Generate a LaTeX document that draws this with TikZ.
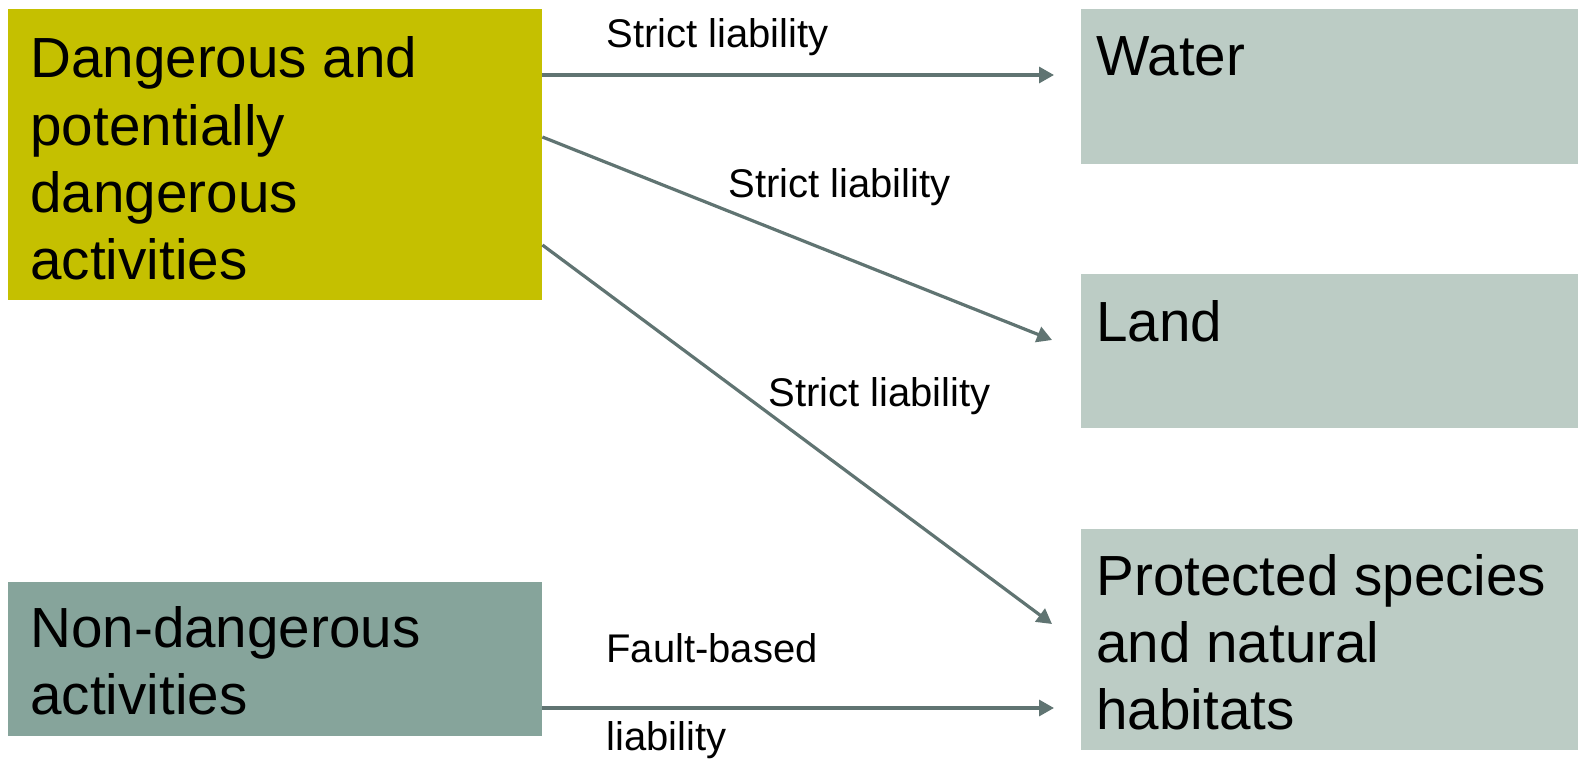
\documentclass[tikz,border=0pt]{standalone}
\usepackage{fontspec}
\setmainfont{Liberation Sans}
\usetikzlibrary{arrows.meta}
\definecolor{dangY}{RGB}{197,192,0}
\definecolor{nondG}{RGB}{134,164,155}
\definecolor{recvG}{RGB}{188,204,197}
\definecolor{arrC}{RGB}{96,116,114}
\tikzset{
  boxbase/.style={rectangle, inner sep=0pt, draw=none},
  boxtext/.style={inner sep=0pt, anchor=base west, align=left, font=\fontsize{28.3}{33.5}\selectfont},
  lbltext/.style={inner sep=0pt, anchor=base west, align=left, font=\fontsize{20}{44}\selectfont},
  conn/.style={draw=arrC, line width=1.6pt, -{Triangle[length=7.5pt,width=8pt]}}
}
\begin{document}
\begin{tikzpicture}[x=0.5pt,y=-0.5pt]
\useasboundingbox (0,0) rectangle (1578,759);
% boxes
\node[boxbase, fill=dangY, minimum width=267pt, minimum height=145.5pt] (dang) at (275,154.5) {};
\node[boxbase, fill=nondG, minimum width=267pt, minimum height=77pt] (nond) at (275,659) {};
\node[boxbase, fill=recvG, minimum width=248.5pt, minimum height=77.5pt] (water) at (1329.5,86.5) {};
\node[boxbase, fill=recvG, minimum width=248.5pt, minimum height=77pt] (land) at (1329.5,351) {};
\node[boxbase, fill=recvG, minimum width=248.5pt, minimum height=110.5pt] (prot) at (1329.5,639.5) {};
% box texts (base anchor = last line)
\node[boxtext] (dangT) at (30,279) {Dangerous and\\potentially\\dangerous\\activities};
\node[boxtext] (nondT) at (30,714) {Non-dangerous\\activities};
\node[boxtext] (waterT) at (1096,76) {Water};
\node[boxtext] (landT) at (1096,341) {Land};
\node[boxtext] (protT) at (1096,729) {Protected species\\and natural\\habitats};
% connector end points
\coordinate (s1) at (dang.east |- 0,75);
\coordinate (s2) at (dang.east |- 0,137);
\coordinate (s3) at (dang.east |- 0,245);
\coordinate (s4) at (nond.east |- 0,708);
\coordinate (e1) at (1054,75);
\coordinate (e2) at (1052,340);
\coordinate (e3) at (1052,624);
\coordinate (e4) at (1054,708);
\draw[conn] (s1) -- (e1);
\draw[conn] (s2) -- (e2);
\draw[conn] (s3) -- (e3);
\draw[conn] (s4) -- (e4);
% labels
\node[lbltext] (l1) at (606,48) {Strict liability};
\node[lbltext] (l2) at (728,198) {Strict liability};
\node[lbltext] (l3) at (768,406) {Strict liability};
\node[lbltext] (l4) at (606,750) {Fault-based\\liability};
\end{tikzpicture}
\end{document}
